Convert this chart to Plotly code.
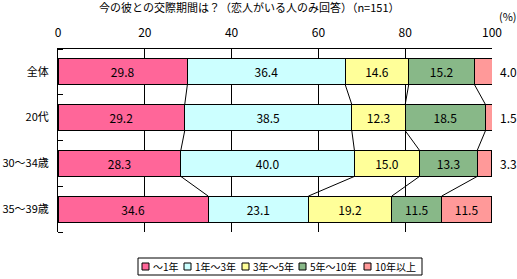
import plotly.graph_objects as go

categories = ["全体", "20代", "30～34歳", "35～39歳"]
series_names = ["～1年", "1年～3年", "3年～5年", "5年～10年", "10年以上"]
values = [
    [29.8, 29.2, 28.3, 34.6],
    [36.4, 38.5, 40.0, 23.1],
    [14.6, 12.3, 15.0, 19.2],
    [15.2, 18.5, 13.3, 11.5],
    [4.0, 1.5, 3.3, 11.5],
]
colors = ["#FF6699", "#CCFFFF", "#FFFF99", "#88B888", "#FF9999"]
x_ticks = [0, 20, 40, 60, 80, 100]

FONT = "Noto Sans CJK JP"
BW = 0.57
ypos = list(range(len(categories)))

W, H = 517, 279
ML, MR, MT, MB = 58, 25, 49, 47
PW, PH = W - ML - MR, H - MT - MB


def px_x(p):
    return (p - ML) / PW


def px_y(p):
    return (H - MB - p) / PH


fig = go.Figure()
for s, name in enumerate(series_names):
    vals = values[s]
    txt = [f"{v:.1f}" if v >= 5 else "" for v in vals]
    fig.add_trace(go.Bar(
        y=ypos, x=vals, orientation="h", name=name, showlegend=False,
        marker=dict(color=colors[s], line=dict(color="black", width=1)),
        width=BW, text=txt, textposition="inside", insidetextanchor="middle",
        textfont=dict(family=FONT, size=12, color="black"),
        constraintext="none", hoverinfo="skip",
    ))

# series lines between stacked bars
cum = []
for i in range(len(categories)):
    c, row = 0, []
    for s in range(len(series_names) - 1):
        c += values[s][i]
        row.append(c)
    cum.append(row)
lx, ly = [], []
for i in range(len(categories) - 1):
    for k in range(len(series_names) - 1):
        lx += [cum[i][k], cum[i + 1][k], None]
        ly += [i + BW / 2, i + 1 - BW / 2, None]
fig.add_trace(go.Scatter(x=lx, y=ly, mode="lines", line=dict(color="black", width=1),
                         showlegend=False, hoverinfo="skip"))

# outside labels for small last segment
for i in range(len(categories)):
    v = values[-1][i]
    if v < 5:
        fig.add_annotation(x=1.0, xref="paper", y=i, yref="y", text=f"{v:.1f}",
                           xanchor="left", xshift=6, showarrow=False,
                           font=dict(family=FONT, size=12, color="black"))

fig.add_annotation(x=0.441, xref="paper", y=1.0, yref="paper", yshift=42,
                   yanchor="middle",
                   text="今の彼との交際期間は？（恋人がいる人のみ回答）（n=151）",
                   showarrow=False, font=dict(family=FONT, size=11, color="black"))

fig.add_annotation(x=1.0, xref="paper", y=1.0, yref="paper", yshift=33, xshift=5,
                   yanchor="middle", text="(%)", xanchor="left", showarrow=False,
                   font=dict(family=FONT, size=11, color="black"))

# custom compact legend
fig.add_shape(type="rect", xref="paper", yref="paper",
              x0=px_x(138), x1=px_x(422), y0=px_y(258), y1=px_y(275),
              line=dict(color="black", width=1), fillcolor="white")
sq_x = [142, 184, 242, 299, 364]
ly_c = 266.5
for s, name in enumerate(series_names):
    x0 = sq_x[s]
    fig.add_shape(type="rect", xref="paper", yref="paper",
                  x0=px_x(x0), x1=px_x(x0 + 7), y0=px_y(ly_c + 3.5), y1=px_y(ly_c - 3.5),
                  line=dict(color="black", width=1), fillcolor=colors[s])
    fig.add_annotation(x=px_x(x0 + 9), xref="paper", y=px_y(ly_c), yref="paper",
                       text=name, xanchor="left", yanchor="middle", showarrow=False,
                       font=dict(family=FONT, size=10, color="black"))

fig.update_layout(
    barmode="stack", width=W, height=H,
    margin=dict(l=ML, r=MR, t=MT, b=MB, autoexpand=False),
    plot_bgcolor="white", paper_bgcolor="white",
    font=dict(family=FONT, size=12, color="black"),
    showlegend=False,
    xaxis=dict(side="top", range=[0, 100], tickvals=x_ticks, showgrid=True,
               gridcolor="black", gridwidth=1, showline=True, linecolor="black",
               linewidth=1, zeroline=False, ticks="", tickfont=dict(size=12),
               ticklabelstandoff=6, automargin=False),
    yaxis=dict(range=[3.5, -0.5], tickvals=ypos, ticktext=categories,
               showgrid=False, zeroline=False, showline=True, linecolor="black",
               linewidth=1, ticks="", ticklabelstandoff=6, automargin=False,
               tickfont=dict(size=11),
               minor=dict(ticks="inside", tick0=0.5, dtick=1, ticklen=5,
                          tickcolor="black", showgrid=False)),
)

fig.write_html("out.html")
